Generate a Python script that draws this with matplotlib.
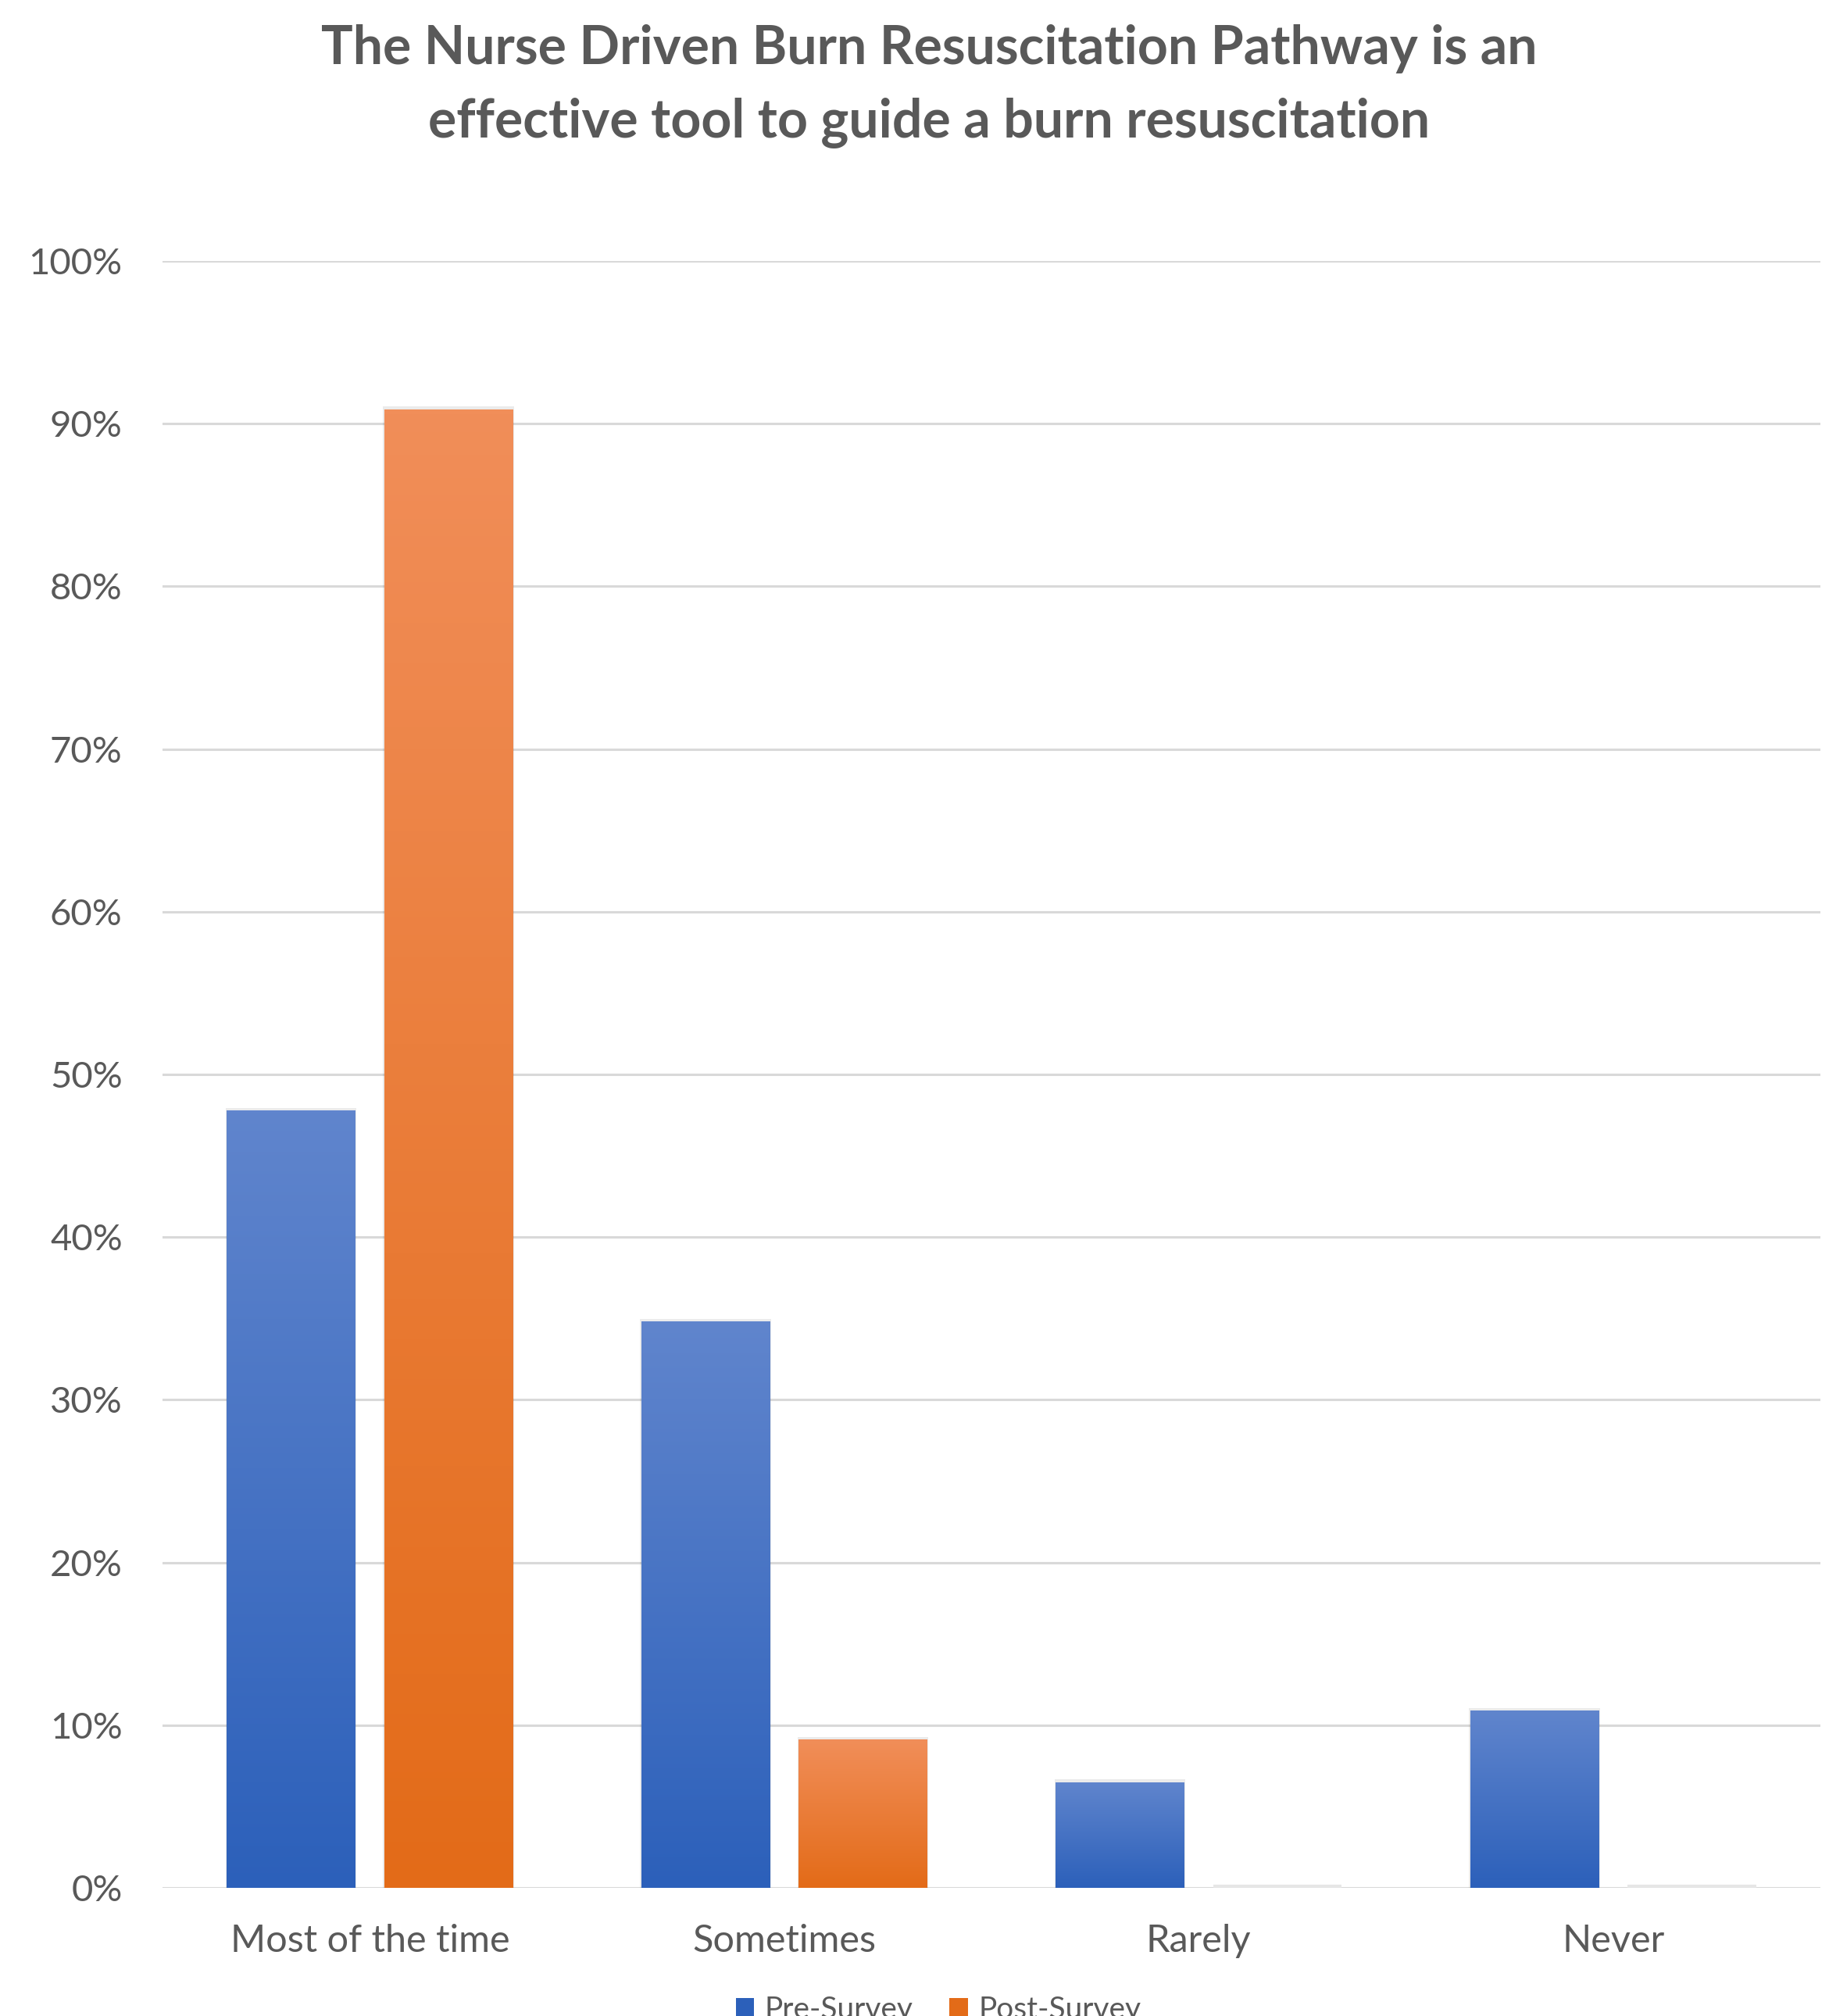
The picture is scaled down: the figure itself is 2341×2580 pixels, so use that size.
import numpy as np
import matplotlib.pyplot as plt
from matplotlib.colors import LinearSegmentedColormap
from matplotlib.ticker import PercentFormatter
from matplotlib.patches import Patch

categories = ['Most of the time', 'Sometimes', 'Rarely', 'Never']
pre_survey = [0.478, 0.348, 0.065, 0.109]
post_survey = [0.909, 0.091, 0.0, 0.0]
series_names = ['Pre-Survey', 'Post-Survey']

grey = '#595959'
blue_top, blue_bot = '#6085CD', '#2C60BA'
orange_top, orange_bot = '#F18E59', '#E36B18'

plt.rcParams['font.family'] = ['Lato', 'DejaVu Sans']

fig = plt.figure(figsize=(23.41, 25.80), dpi=100)
ax = fig.add_axes([0.0889, 0.0636, 0.9064, 0.8069])

x = np.arange(len(categories))
w = 0.31
off = 0.19


def gradient_bars(bars, c_top, c_bot):
    cmap = LinearSegmentedColormap.from_list('g', [c_bot, c_top])
    grad = np.linspace(0, 1, 256).reshape(-1, 1)
    for b in bars:
        h = b.get_height()
        x0, bw = b.get_x(), b.get_width()
        if h <= 0:
            # empty bar shows only as a faint line on the axis
            ax.plot([x0, x0 + bw], [0.001, 0.001], color='#E6E6E6',
                    linewidth=3, zorder=1, solid_capstyle='butt')
            continue
        ax.add_patch(plt.Rectangle((x0 - 0.003, 0), bw + 0.006, h + 0.0015,
                                   facecolor='#000000', alpha=0.08, zorder=2,
                                   linewidth=0))
        im = ax.imshow(grad, cmap=cmap, origin='lower', aspect='auto',
                       extent=(x0, x0 + bw, 0, h), zorder=3)
        im.set_clip_path(b)


bars_pre = ax.bar(x - off, pre_survey, w, color=blue_bot, zorder=3,
                  label=series_names[0], linewidth=0)
bars_post = ax.bar(x + off, post_survey, w, color=orange_bot, zorder=3,
                   label=series_names[1], linewidth=0)
gradient_bars(bars_pre, blue_top, blue_bot)
gradient_bars(bars_post, orange_top, orange_bot)

ax.set_xlim(-0.5, len(categories) - 0.5)
ax.set_ylim(0, 1.0)
ax.set_yticks(np.arange(0, 1.01, 0.1))
ax.yaxis.set_major_formatter(PercentFormatter(1.0, decimals=0))
ax.set_xticks(x)
ax.set_xticklabels(categories)
ax.grid(axis='y', color='#D9D9D9', linewidth=2.2, zorder=0)
ax.set_axisbelow(True)
for s in ax.spines.values():
    s.set_visible(False)
ax.tick_params(axis='y', length=0, pad=37, labelsize=34, labelcolor=grey)
ax.tick_params(axis='x', length=0, pad=33, labelsize=35, labelcolor=grey)

fig.text(0.508, 0.988, 'The Nurse Driven Burn Resuscitation Pathway is an\n'
         'effective tool to guide a burn resuscitation',
         ha='center', va='top', fontsize=49, fontweight='bold', color=grey,
         linespacing=1.6)

handles = [Patch(facecolor=blue_bot), Patch(facecolor=orange_bot)]
fig.legend(handles, series_names, loc='center', bbox_to_anchor=(0.513, 0.003),
           ncol=2, frameon=False, fontsize=28, labelcolor=grey,
           handlelength=0.6, handleheight=0.6, handletextpad=0.35,
           columnspacing=1.2)

fig.savefig('out.png', dpi=100, facecolor='white')
